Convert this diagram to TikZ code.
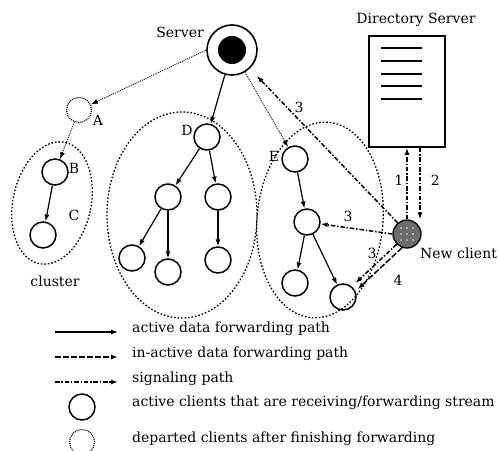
\documentclass[tikz,border=0pt]{standalone}
\usepackage{fontspec}
\setmainfont{DejaVu Serif}
\usetikzlibrary{arrows.meta,calc}
\begin{document}
\begin{tikzpicture}[x=1pt,y=-1pt,
  tip/.style={-{Latex[length=7pt,width=5pt]}},
  client/.style={circle,draw,line width=1.5pt,minimum size=26pt,inner sep=0pt},
  departed/.style={circle,draw,dash pattern=on 1pt off 1pt,line width=1.2pt,minimum size=25pt,inner sep=0pt},
  data/.style={tip,line width=1.2pt},
  inactive/.style={tip,line width=1.5pt,dash pattern=on 6pt off 2pt},
  signal/.style={tip,line width=1.5pt,dash pattern=on 4.5pt off 1.8pt on 1.5pt off 1.8pt},
  faint/.style={tip,line width=0.9pt,dash pattern=on 1pt off 1pt},
  group/.style={line width=1.3pt,dash pattern=on 1.6pt off 1.9pt},
  lbl/.style={font=\fontsize{14}{16}\selectfont,inner sep=1pt},
  leg/.style={font=\fontsize{14}{16}\selectfont,inner sep=0pt,anchor=west},
]
\useasboundingbox (0,0) rectangle (498,450);

% groups
\draw[group,rotate around={-12:(52,203)}] (52,203) ellipse (39 and 62);
\draw[group] (182,215) ellipse (75 and 103);
\draw[group,rotate around={-5:(320,220)}] (320,220) ellipse (63 and 98);

% server
\node[circle,draw,line width=1.6pt,minimum size=50pt,inner sep=0pt] (srv) at (232,50) {};
\fill (srv) circle (14);
\node[lbl] (srvl) at (180,32) {Server};

% directory server
\node[draw,line width=1.6pt,minimum width=76pt,minimum height=111pt,inner sep=0pt] (dir) at (407,91.5) {};
\foreach \yy in {48,61,74,86,99} \draw[line width=1.8pt] (381,\yy) -- (422,\yy);
\node[lbl] (dirl) at (416,20) {Directory Server};

% new client
\node[circle,draw,line width=1.3pt,fill=gray!85!black,minimum size=28pt,inner sep=0pt] (nc) at (407,234) {};
\foreach \dx in {-6,0,6} \foreach \dy in {-6,0,6} \fill[white!80!gray] ($(nc)+(\dx,\dy)$) circle (0.8);
\node[lbl,anchor=west] (ncl) at (419,253) {New client};

% nodes
\node[departed] (A) at (79,110) {};
\node[lbl] at (98,120) {A};
\node[client] (B) at (55,172) {};
\node[lbl] at (74,168) {B};
\node[client] (C) at (43,235) {};
\node[lbl] at (74,215) {C};
\node[lbl] at (55,281) {cluster};

\node[client] (D) at (207,137) {};
\node[lbl] at (187,130) {D};
\node[client] (D1) at (168,197) {};
\node[client] (D2) at (218,197) {};
\node[client] (D11) at (132,258) {};
\node[client] (D12) at (168,272) {};
\node[client] (D21) at (218,260) {};

\node[client] (E) at (295,159) {};
\node[lbl] at (274,156) {E};
\node[client] (E1) at (307,222) {};
\node[client] (E11) at (295,283) {};
\node[client] (E12) at (343,297) {};

% tree edges
\draw[faint] (srv.west) -- (A);
\draw[faint] (A) -- (B);
\draw[data] (B) -- (C);
\draw[data] (srv) -- (D);
\draw[data] (D) -- (D1);
\draw[data] (D) -- (D2);
\draw[data] (D1) -- (D11);
\draw[data] (D1) -- (D12);
\draw[data] (D2) -- (D21);
\draw[faint] (srv) -- (E);
\draw[data] (E) -- (E1);
\draw[data] (E1) -- (E11);
\draw[data] (E1) -- (E12);

% new client signaling
\draw[signal] (nc.north) -- (dir.south) node[lbl,pos=0.55,left=2pt] {1};
\coordinate (d2a) at ($(dir.south)+(13,0)$);
\coordinate (d2b) at ($(nc.north)+(13,0)$);
\draw[signal] (d2a) -- (d2b) node[lbl,pos=0.45,right=9pt] {2};
\draw[signal,shorten >=10pt] (nc.130) -- (srv);
\node[lbl] at (299,107) {3};
\draw[signal] (nc.west) -- (E1);
\node[lbl] at (348,216) {3};
\draw[signal,shorten >=5pt] (nc.225) -- (E12.50);
\node[lbl] at (372,253) {3};
\draw[inactive,shorten >=3pt] (nc.250) -- (E12.25);
\node[lbl] at (398,280) {4};

% legend
\coordinate (l1a) at (55,332); \coordinate (l1b) at (118,332);
\coordinate (l2a) at (55,357); \coordinate (l2b) at (118,357);
\coordinate (l3a) at (55,382); \coordinate (l3b) at (118,382);
\draw[data] (l1a) -- (l1b);
\draw[inactive] (l2a) -- (l2b);
\draw[signal] (l3a) -- (l3b);
\node[client] (lc1) at (82,407) {};
\node[departed] (lc2) at (82,442) {};
\node[leg] at (132,329) {active data forwarding path};
\node[leg] at (132,354) {in-active data forwarding path};
\node[leg] at (132,379) {signaling path};
\node[leg] at (132,403) {active clients that are receiving/forwarding stream};
\node[leg] at (132,439) {departed clients after finishing forwarding};
\end{tikzpicture}
\end{document}
